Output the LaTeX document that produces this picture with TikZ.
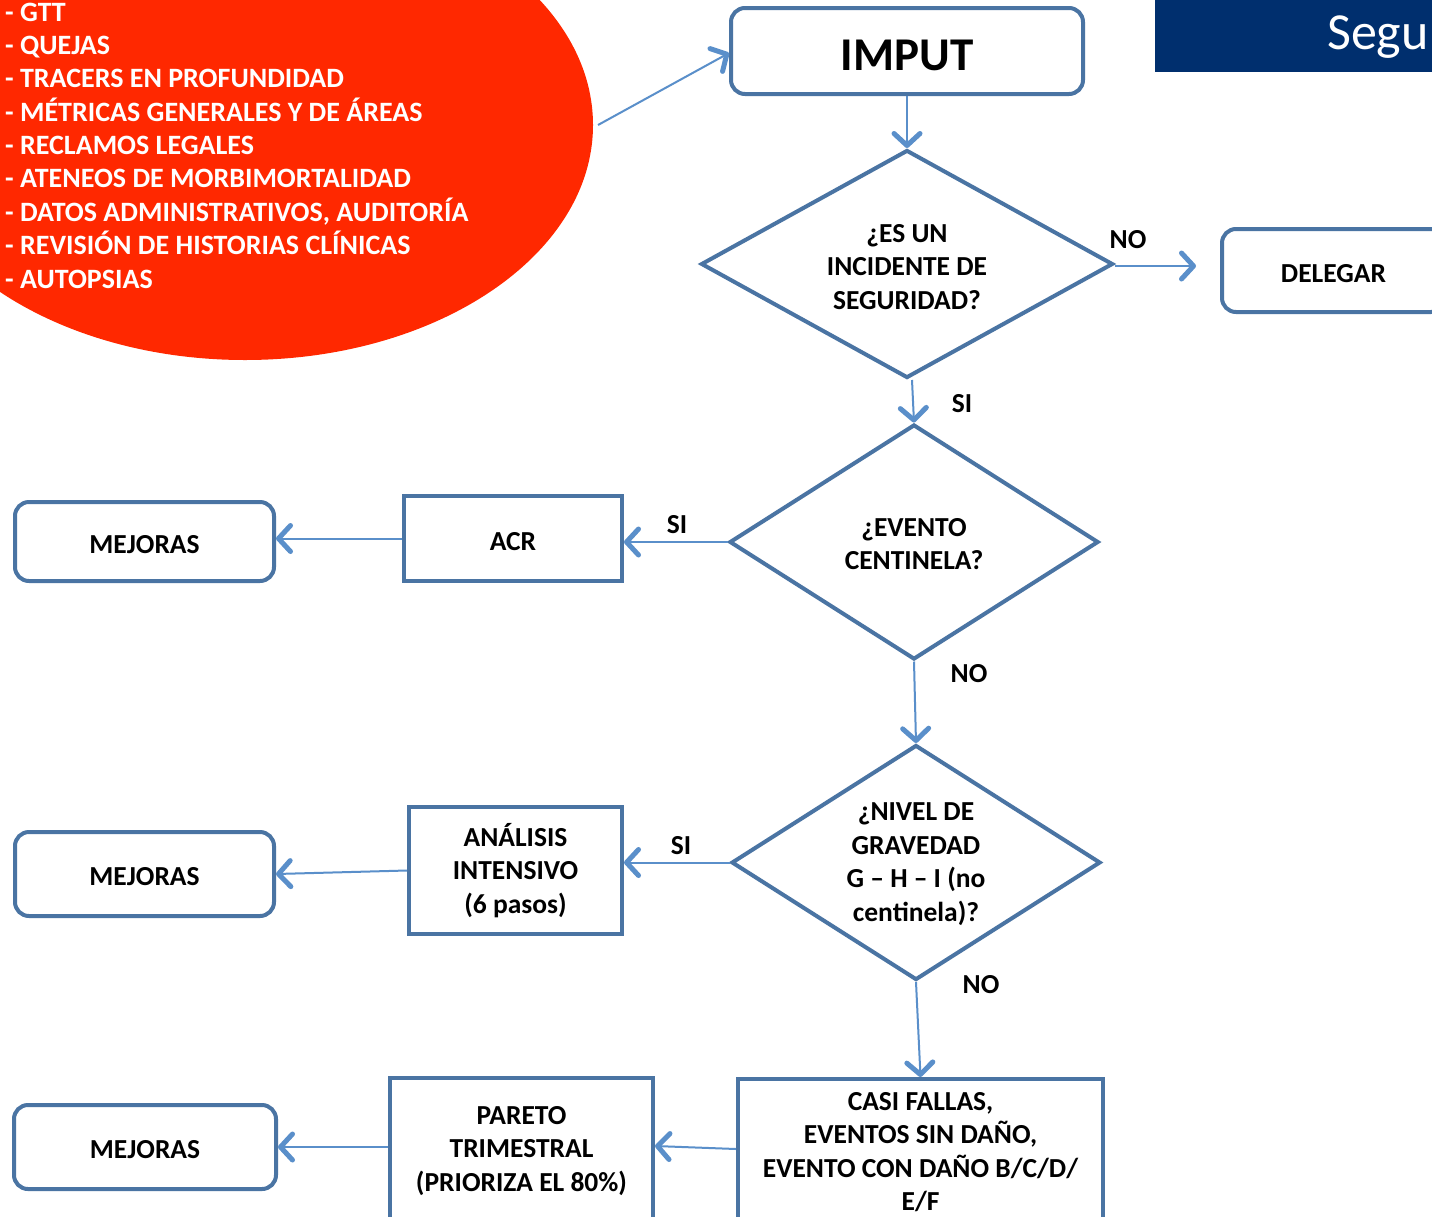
\documentclass[tikz,border=0pt]{standalone}
\usepackage{fontspec}
\setmainfont{Carlito}
\usetikzlibrary{arrows.meta,shapes.geometric}
\definecolor{bord}{RGB}{74,116,163}
\definecolor{conncol}{RGB}{90,143,202}
\definecolor{ellred}{RGB}{255,40,0}
\definecolor{navy}{RGB}{0,47,110}
\begin{document}
\begin{tikzpicture}[x=1pt,y=-1pt,
  lbl/.style={font=\fontsize{27.5}{33.5}\selectfont\bfseries, align=center, inner sep=0pt},
  oneline/.style={text height=23pt, text depth=0pt},
  rbox/.style={draw=bord, line width=4pt, rounded corners=14pt, fill=white, inner sep=0pt},
  sbox/.style={draw=bord, line width=4pt, fill=white, inner sep=0pt},
  dia/.style={diamond, draw=bord, line width=4pt, fill=white, inner sep=0pt},
  link/.style={draw=conncol, line width=2pt, -{Straight Barb[length=12pt,width=26pt,line width=0pt 2.5 0,round]}},
  eltxt/.style={anchor=base west, inner sep=0pt, text=white, font=\fontsize{28}{33}\selectfont\bfseries}
]
\useasboundingbox (0,0) rectangle (1432,1216);
\clip (0,0) rectangle (1432,1216);
\fill[white] (0,0) rectangle (1432,1216);

% red ellipse with sources
\node[ellipse, fill=ellred, minimum width=696pt, minimum height=470pt, inner sep=0pt] (ell) at (245,125) {};
\foreach \t [count=\i from 0] in {GTT,QUEJAS,TRACERS EN PROFUNDIDAD,MÉTRICAS GENERALES Y DE ÁREAS,RECLAMOS LEGALES,ATENEOS DE MORBIMORTALIDAD,{DATOS ADMINISTRATIVOS, AUDITORÍA},REVISIÓN DE HISTORIAS CLÍNICAS,AUTOPSIAS}
  \node[eltxt] (src\i) at (5,{21+33.375*\i}) {- \t};

% title bar
\node[fill=navy, anchor=north west, minimum width=290pt, minimum height=72pt, inner sep=0pt] (bar) at (1155,0) {};
\node[anchor=base west, inner sep=0pt, text=white, font=\fontsize{52}{62}\selectfont] (title) at (1327,49) {Segu};

% boxes
\node[rbox, minimum width=352pt, minimum height=86pt, text height=38pt, text depth=0pt, font=\fontsize{47}{56}\selectfont\bfseries] (imput) at (907,51) {IMPUT};
\node[dia, minimum width=412pt, minimum height=228pt] (d1) at (907,264) {};
\node[lbl] (d1t) at (907,267) {¿ES UN\\INCIDENTE DE\\SEGURIDAD?};
\node[rbox, lbl, oneline, minimum width=223pt, minimum height=83pt] (del) at (1333.5,270.5) {DELEGAR};

\node[dia, minimum width=369pt, minimum height=235pt] (d2) at (914,542) {};
\node[lbl] (d2t) at (914,544) {¿EVENTO\\CENTINELA?};
\node[sbox, lbl, oneline, minimum width=218pt, minimum height=85pt] (acr) at (513,538.5) {ACR};
\node[rbox, lbl, oneline, minimum width=259pt, minimum height=79pt] (mej1) at (144.5,541.5) {MEJORAS};

\node[dia, minimum width=369pt, minimum height=235pt] (d3) at (916,862.5) {};
\node[lbl] (d3t) at (916,864) {¿NIVEL DE\\GRAVEDAD\\G – H – I (no\\centinela)?};
\node[sbox, lbl, minimum width=213pt, minimum height=127pt] (ana) at (515.5,870.5) {ANÁLISIS\\INTENSIVO\\(6 pasos)};
\node[rbox, lbl, oneline, minimum width=259pt, minimum height=84pt] (mej2) at (144.5,874) {MEJORAS};

\node[sbox, lbl, minimum width=365pt, minimum height=146pt] (casi) at (920.5,1152) {CASI FALLAS,\\EVENTOS SIN DAÑO,\\EVENTO CON DAÑO B/C/D/\\E/F};
\node[sbox, lbl, minimum width=263pt, minimum height=146pt] (par) at (521.5,1151) {PARETO\\TRIMESTRAL\\(PRIORIZA EL 80\%)};
\node[rbox, lbl, oneline, minimum width=262pt, minimum height=84pt] (mej3) at (145,1147) {MEJORAS};

% connectors
\coordinate (es) at (598,125);
\draw[link] (es) -- ([yshift=-2pt]imput.west);
\draw[link] (imput.south) -- (d1.north);
\draw[link, shorten >=24pt] ([yshift=-2pt]d1.east) -- ([yshift=-2pt]d1.east -| del.west);
\draw[link] ([xshift=5pt]d1.south) -- (d2.north);
\draw[link] (d2.west) -- (d2.west -| acr.east);
\draw[link] (acr.west) -- (acr.west -| mej1.east);
\draw[link] (d2.south) -- (d3.north);
\draw[link] (d3.west) -- (d3.west -| ana.east);
\draw[link] (ana.west) -- (mej2.east);
\draw[link] (d3.south) -- (casi.north);
\draw[link] ([yshift=3pt]casi.west) -- ([yshift=5pt]par.east);
\draw[link] (par.west |- mej3.east) -- (mej3.east);

% labels
\node[lbl] (l1) at (1128,240) {NO};
\node[lbl] (l2) at (962,404) {SI};
\node[lbl] (l3) at (677,525) {SI};
\node[lbl] (l4) at (969,674) {NO};
\node[lbl] (l5) at (681,846) {SI};
\node[lbl] (l6) at (981,985) {NO};
\end{tikzpicture}
\end{document}
